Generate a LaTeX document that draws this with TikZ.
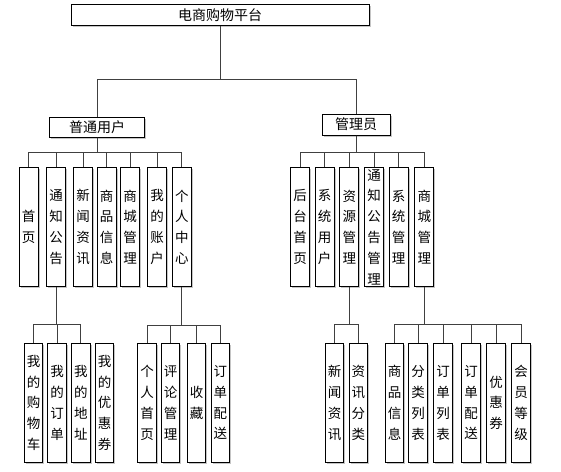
\documentclass[tikz,border=0pt]{standalone}
\usepackage{fontspec}
\setmainfont{Noto Sans CJK SC}
\usetikzlibrary{shadows}

\begin{document}
\begin{tikzpicture}[x=1pt,y=-1pt,inner sep=0pt]
\tikzstyle{main}=[rectangle, draw=black, line width=1pt, fill=white, drop shadow={shadow xshift=1.5pt,shadow yshift=-1.5pt,fill=black!45}]
\tikzstyle{hbox}=[main, font=\fontsize{14}{16}\selectfont]
\tikzstyle{vbox}=[main, minimum width=19pt, minimum height=119pt, align=center, font=\fontsize{13.5}{20.8}\selectfont]
\tikzstyle{connect}=[line width=1pt, black!75]
\useasboundingbox (0,0) rectangle (561,471);
\node[hbox, minimum width=298pt, minimum height=20.5pt] (root) at (220,15) {电商购物平台};
\node[hbox, minimum width=95pt, minimum height=20pt] (user) at (97,127.2) {普通用户};
\node[hbox, minimum width=68pt, minimum height=21pt] (admin) at (356,124.5) {管理员};
% user level
\node[vbox] (u1) at (28.7,227) {首\\页};
\node[vbox] (u2) at (56,227) {通\\知\\公\\告};
\node[vbox] (u3) at (83,227) {新\\闻\\资\\讯};
\node[vbox] (u4) at (106.5,227) {商\\品\\信\\息};
\node[vbox] (u5) at (130.2,227) {商\\城\\管\\理};
\node[vbox] (u6) at (157,227) {我\\的\\账\\户};
\node[vbox] (u7) at (181.8,227) {个\\人\\中\\心};
% admin level
\node[vbox] (a1) at (300,227) {后\\台\\首\\页};
\node[vbox] (a2) at (324.7,227) {系\\统\\用\\户};
\node[vbox] (a3) at (349.3,227) {资\\源\\管\\理};
\node[vbox] (a4) at (374,227) {通\\知\\公\\告\\管\\理};
\node[vbox] (a5) at (398.7,227) {系\\统\\管\\理};
\node[vbox] (a6) at (424.3,227) {商\\城\\管\\理};
% leaves
\node[vbox, minimum width=18.5pt] (c1) at (33.7,402.8) {我\\的\\购\\物\\车};
\node[vbox, minimum width=18.5pt] (c2) at (57.2,402.8) {我\\的\\订\\单};
\node[vbox, minimum width=18.5pt] (c3) at (80.8,402.8) {我\\的\\地\\址};
\node[vbox, minimum width=18.5pt] (c4) at (104.5,402.8) {我\\的\\优\\惠\\券};
\node[vbox, minimum width=18.5pt] (p1) at (147,402.8) {个\\人\\首\\页};
\node[vbox, minimum width=18.5pt] (p2) at (170.7,402.8) {评\\论\\管\\理};
\node[vbox, minimum width=18.5pt] (p3) at (196.7,402.8) {收\\藏};
\node[vbox, minimum width=18.5pt] (p4) at (220.3,402.8) {订\\单\\配\\送};
\node[vbox, minimum width=18.5pt] (r1) at (334.7,402.8) {新\\闻\\资\\讯};
\node[vbox, minimum width=18.5pt] (r2) at (358.3,402.8) {资\\讯\\分\\类};
\node[vbox, minimum width=18.5pt] (m1) at (394.7,402.8) {商\\品\\信\\息};
\node[vbox, minimum width=18.5pt] (m2) at (418,402.8) {分\\类\\列\\表};
\node[vbox, minimum width=18.5pt] (m3) at (443,402.8) {订\\单\\列\\表};
\node[vbox, minimum width=18.5pt] (m4) at (471,402.8) {订\\单\\配\\送};
\node[vbox, minimum width=18.5pt] (m5) at (496,402.8) {优\\惠\\券};
\node[vbox, minimum width=18.5pt] (m6) at (521,402.8) {会\\员\\等\\级};
% connectors
\foreach \c in {user,admin} \draw[connect] (root.south) -- ++(0,53.8) -| (\c.north);
\foreach \c in {u1,u2,u3,u4,u5,u6,u7} \draw[connect] (user.south) -- ++(0,15.1) -| (\c.north);
\foreach \c in {a1,a2,a3,a4,a5,a6} \draw[connect] (admin.south) -- ++(0,17.3) -| (\c.north);
\foreach \c in {c1,c2,c3} \draw[connect] (u2.south) -- ++(0,37.5) -| (\c.north);
\foreach \c in {p1,p2,p3,p4} \draw[connect] (u7.south) -- ++(0,38) -| (\c.north);
\foreach \c in {r1,r2} \draw[connect] (a3.south) -- ++(0,37.5) -| (\c.north);
\foreach \c in {m1,m2,m3,m4,m5,m6} \draw[connect] (a6.south) -- ++(0,37.5) -| (\c.north);
\end{tikzpicture}
\end{document}
